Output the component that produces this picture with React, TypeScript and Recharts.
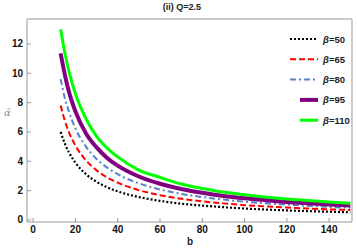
import React from "react";
import { LineChart, Line, XAxis, YAxis, Legend, ReferenceArea } from "recharts";

const B = [13, 15, 17, 20, 25, 30, 35, 40, 50, 60, 70, 80, 90, 100, 110, 120, 130, 140, 150];

const beta50 = [6.0, 5.2, 4.59, 3.9, 3.12, 2.6, 2.23, 1.95, 1.56, 1.3, 1.11, 0.98, 0.87, 0.78, 0.71, 0.65, 0.6, 0.56, 0.52];
const beta65 = [7.8, 6.76, 5.96, 5.07, 4.06, 3.38, 2.9, 2.54, 2.03, 1.69, 1.45, 1.27, 1.13, 1.01, 0.92, 0.85, 0.78, 0.72, 0.68];
const beta80 = [9.6, 8.3, 7.35, 6.24, 5.0, 4.16, 3.57, 3.12, 2.5, 2.08, 1.78, 1.56, 1.39, 1.25, 1.13, 1.04, 0.96, 0.89, 0.83];
const beta95 = [11.35, 9.9, 8.7, 7.4, 5.9, 4.95, 4.23, 3.7, 2.96, 2.47, 2.11, 1.85, 1.64, 1.48, 1.35, 1.23, 1.14, 1.06, 0.99];
const beta110 = [13.0, 11.4, 10.1, 8.6, 6.9, 5.7, 4.9, 4.3, 3.4, 2.9, 2.45, 2.15, 1.9, 1.72, 1.56, 1.43, 1.32, 1.23, 1.14];

const X_MAJOR = [0, 20, 40, 60, 80, 100, 120, 140];
const X_MINOR = [5, 10, 15, 25, 30, 35, 45, 50, 55, 65, 70, 75, 85, 90, 95, 105, 110, 115, 125, 130, 135, 145, 150];
const Y_MAJOR = [0, 2, 4, 6, 8, 10, 12];
const Y_MINOR = [0.5, 1, 1.5, 2.5, 3, 3.5, 4.5, 5, 5.5, 6.5, 7, 7.5, 8.5, 9, 9.5, 10.5, 11, 11.5, 12.5, 13, 13.5];

const X_DOMAIN: [number, number] = [-2.9, 150.8];
const Y_DOMAIN: [number, number] = [-0.14, 13.7];

const data = B.map((b, i) => ({
  b,
  beta50: beta50[i],
  beta65: beta65[i],
  beta80: beta80[i],
  beta95: beta95[i],
  beta110: beta110[i],
}));

const series = [
  { key: "beta50", name: "50", color: "#000000", width: 2.2, dash: "2 2", short: false },
  { key: "beta65", name: "65", color: "#ff0000", width: 2, dash: "6 3", short: false },
  { key: "beta80", name: "80", color: "#5b80c8", width: 2, dash: "6 3 2 3", short: false },
  { key: "beta95", name: "95", color: "#800080", width: 4, dash: undefined, short: true },
  { key: "beta110", name: "110", color: "#00ff00", width: 3, dash: undefined, short: true },
];

const FRAME = "#999999";
const FONT = "Liberation Sans, Arial, sans-serif";

// tick label + inward major tick mark
const XTick = ({ x, y, payload }: any) => (
  <g>
    <line x1={x} x2={x} y1={y} y2={y - 4} stroke={FRAME} />
    <text x={x} y={y + 11} textAnchor="middle" fontSize={10} fontWeight="bold" fill="#111" fontFamily={FONT}>
      {payload.value}
    </text>
  </g>
);

const YTick = ({ x, y, payload }: any) => (
  <g>
    <line x1={x} x2={x + 4} y1={y} y2={y} stroke={FRAME} />
    <text x={x - 4} y={y + 3.5} textAnchor="end" fontSize={10} fontWeight="bold" fill="#111" fontFamily={FONT}>
      {payload.value}
    </text>
  </g>
);

// plain tick marks pointing into the frame
const mark = (dx: number, dy: number) => ({ x, y }: any) => (
  <line x1={x} y1={y} x2={x + dx} y2={y + dy} stroke={FRAME} />
);

const axisBits = { tickSize: 0, tickMargin: 0, tickLine: false, axisLine: false, interval: 0 as const, allowDataOverflow: true, type: "number" as const };

const renderLegend = () => (
  <svg width={66} height={100}>
    {series.map((s, i) => {
      const y = 10 + i * 20.3;
      return (
        <g key={s.key}>
          <line
            x1={s.short ? 12 : 2}
            x2={30}
            y1={y}
            y2={y}
            stroke={s.color}
            strokeWidth={s.width}
            strokeDasharray={s.dash}
          />
          <text x={35} y={y + 3.5} fontSize={9.5} fontWeight="bold" fill="#222" fontFamily={FONT}>
            <tspan fontStyle="italic">β</tspan>={s.name}
          </text>
        </g>
      );
    })}
  </svg>
);

export default function App() {
  return (
    <div style={{ position: "absolute", left: 0, top: 0, width: 357, height: 249, background: "#fff" }}>
      <div
        style={{
          position: "absolute",
          left: 0,
          top: 2,
          width: 364,
          textAlign: "center",
          fontSize: 9,
          fontWeight: "bold",
          fontFamily: FONT,
          color: "#222",
        }}
      >
        (ii) Q=2.5
      </div>
      <div
        style={{
          position: "absolute",
          left: 4,
          top: 107,
          fontSize: 10,
          fontStyle: "italic",
          fontFamily: "DejaVu Serif, serif",
          color: "#888",
        }}
      >
        α̃
      </div>
      <div
        style={{
          position: "absolute",
          left: 187,
          top: 236,
          fontSize: 10,
          fontWeight: "bold",
          fontFamily: FONT,
          color: "#222",
        }}
      >
        b
      </div>
      <LineChart width={357} height={249} data={data} margin={{ top: 19, right: 5, left: 0, bottom: 0 }}>
        <XAxis xAxisId="x" dataKey="b" domain={X_DOMAIN} ticks={X_MAJOR} height={27} tick={<XTick />} {...axisBits} />
        <XAxis xAxisId="xMin" domain={X_DOMAIN} ticks={X_MINOR} mirror height={0} tick={mark(0, -2)} {...axisBits} />
        <XAxis xAxisId="xTop" orientation="top" domain={X_DOMAIN} ticks={X_MAJOR} mirror height={0} tick={mark(0, 4)} {...axisBits} />
        <XAxis xAxisId="xTopMin" orientation="top" domain={X_DOMAIN} ticks={X_MINOR} mirror height={0} tick={mark(0, 2)} {...axisBits} />

        <YAxis yAxisId="y" domain={Y_DOMAIN} ticks={Y_MAJOR} width={27} tick={<YTick />} {...axisBits} />
        <YAxis yAxisId="yMin" domain={Y_DOMAIN} ticks={Y_MINOR} mirror width={0} tick={mark(2, 0)} {...axisBits} />
        <YAxis yAxisId="yRight" orientation="right" domain={Y_DOMAIN} ticks={Y_MAJOR} mirror width={0} tick={mark(-4, 0)} {...axisBits} />
        <YAxis yAxisId="yRightMin" orientation="right" domain={Y_DOMAIN} ticks={Y_MINOR} mirror width={0} tick={mark(-2, 0)} {...axisBits} />

        {/* frame */}
        <ReferenceArea
          xAxisId="x"
          yAxisId="y"
          x1={X_DOMAIN[0]}
          x2={X_DOMAIN[1]}
          y1={Y_DOMAIN[0]}
          y2={Y_DOMAIN[1]}
          fill="none"
          fillOpacity={0}
          stroke={FRAME}
          strokeOpacity={1}
          ifOverflow="visible"
        />

        <Legend
          layout="vertical"
          align="center"
          verticalAlign="middle"
          content={renderLegend}
          wrapperStyle={{ position: "absolute", left: 288, top: 29, width: 66, height: 100 }}
        />

        {series.map((s) => (
          <Line
            key={s.key}
            xAxisId="x"
            yAxisId="y"
            type="monotone"
            dataKey={s.key}
            name={`β=${s.name}`}
            stroke={s.color}
            strokeWidth={s.width}
            strokeDasharray={s.dash}
            dot={false}
            isAnimationActive={false}
          />
        ))}
      </LineChart>
    </div>
  );
}
